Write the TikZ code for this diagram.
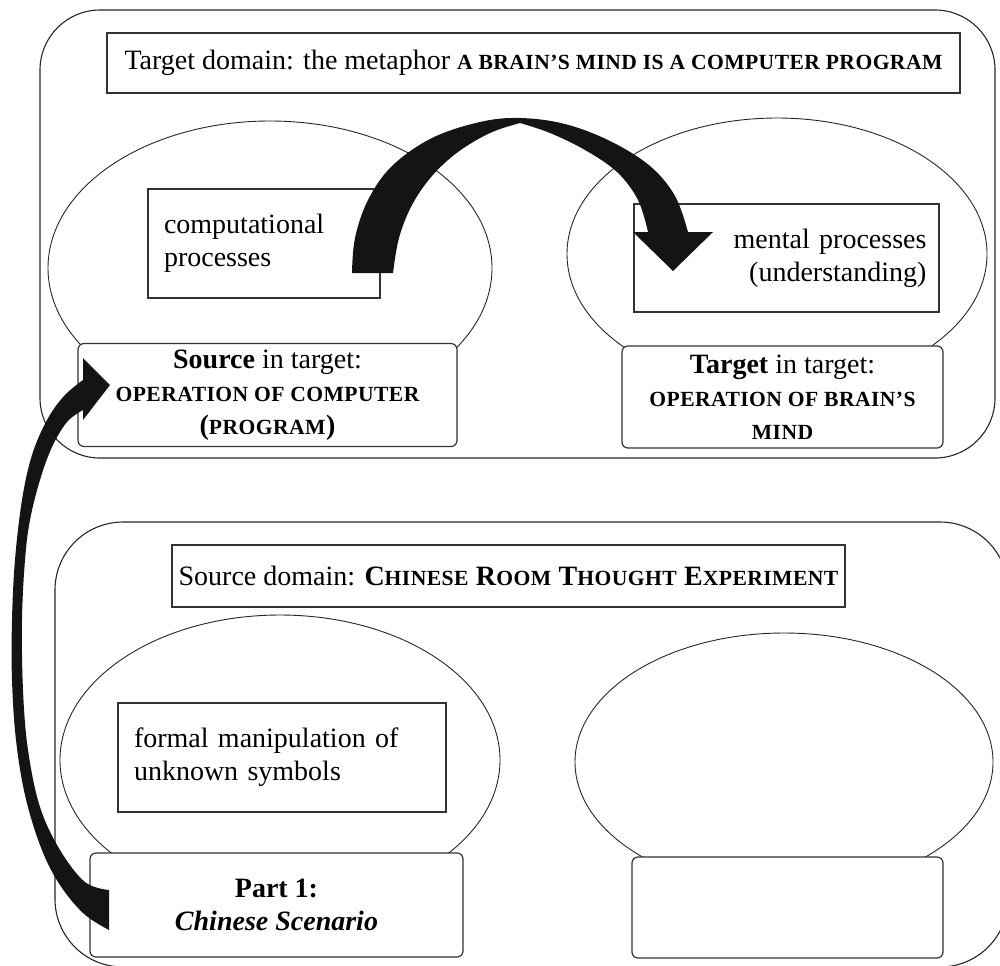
\documentclass[tikz,border=0pt]{standalone}
\usepackage{fontspec}
\setmainfont{Liberation Serif}
\usetikzlibrary{shapes.geometric}
% bold small capitals, set as reduced, slightly tracked bold capitals
\newcommand{\scb}[1]{{\fontsize{10.8}{13}\selectfont\bfseries\addfontfeature{LetterSpace=2}#1}}
\begin{document}
\begin{tikzpicture}[x=0.5pt,y=-0.5pt,
  txt/.style={font=\fontsize{14}{16.5}\selectfont},
  domainbox/.style={draw=black!85, line width=0.55pt, rounded corners=30pt, inner sep=0pt},
  headbox/.style={txt, draw=black!80, line width=0.6pt, inner sep=0pt},
  procbox/.style={txt, draw=black!80, line width=0.6pt, inner ysep=0pt},
  rolebox/.style={txt, draw=black!80, fill=white, line width=0.6pt, rounded corners=3pt, inner sep=0pt, align=center},
  field/.style={ellipse, draw=black!85, line width=0.45pt, inner sep=0pt},
  bigarrow/.style={fill=black!92}
]
\useasboundingbox (0,0) rectangle (1000,965);
\clip (0,0) rectangle (1000,965);

% the two domains
\node[domainbox, minimum width=477.5pt, minimum height=224pt] (targetdomain) at (517.5,234) {};
\node[domainbox, rounded corners=34pt, minimum width=476.5pt, minimum height=222.5pt] (sourcedomain) at (531.5,744.5) {};

% headings
\node[headbox, minimum width=426.5pt, minimum height=30pt] (targethead) at (533.5,63)
  {Target domain: the metaphor \scb{A BRAIN’S MIND IS A COMPUTER PROGRAM}};
\node[headbox, minimum width=336.5pt, minimum height=31pt] (sourcehead) at (508.5,576)
  {Source domain: \textbf{C}\scb{HINESE} \textbf{R}\scb{OOM} \textbf{T}\scb{HOUGHT} \textbf{E}\scb{XPERIMENT}};

% fields
\node[field, minimum width=222pt, minimum height=147pt] (compfield) at (270,268) {};
\node[field, minimum width=210pt, minimum height=136pt] (mindfield) at (777,254) {};
\node[field, minimum width=220pt, minimum height=145pt] (roomfield) at (280,760) {};
\node[field, minimum width=209pt, minimum height=129pt] (emptyfield) at (784,762) {};

% processes
\node[procbox, minimum width=116pt, minimum height=54.5pt, text width=100pt, inner xsep=8pt, align=left] (comp) at (264,243.5)
  {computational\\processes};
\node[procbox, minimum width=152.5pt, minimum height=54pt, text width=140pt, inner xsep=6.25pt, align=right] (mental) at (786.5,258)
  {mental processes\\(understanding)};
\node[procbox, minimum width=164pt, minimum height=54.5pt, text width=148pt, inner xsep=8pt, align=left] (formal) at (282,757.5)
  {formal manipulation of\\unknown symbols};

% roles
\node[rolebox, minimum width=189.5pt, minimum height=51.5pt] (srcrole) at (267.5,395)
  {\textbf{Source} in target:\\\scb{OPERATION OF COMPUTER}\\\textbf{(}\scb{PROGRAM}\textbf{)}};
\node[rolebox, minimum width=160.5pt, minimum height=51pt] (tgtrole) at (782.5,397)
  {\textbf{Target} in target:\\\scb{OPERATION OF BRAIN’S}\\\scb{MIND}};
\node[rolebox, minimum width=186.5pt, minimum height=52pt] (part1) at (276.5,905)
  {\textbf{Part 1:}\\\textbf{\textit{Chinese Scenario}}};
\node[rolebox, minimum width=155.5pt, minimum height=50.5pt] (emptyrole) at (787.5,907.5) {};

% arched arrow: computational -> mental processes
\fill[bigarrow]
  plot[smooth, tension=0.6] coordinates {(352,273) (355,238) (368,200) (392,166) (432,138) (480,122) (520,118) (565,124) (610,141) (650,166) (675,196) (688,232)}
  -- (713,232) -- (673,271) -- (633,232) -- (648,232)
  -- plot[smooth, tension=0.6] coordinates {(648,232) (638,200) (617,172) (585,150) (550,133) (520,123)}
  -- plot[smooth, tension=0.6] coordinates {(520,123) (490,133) (458,152) (432,176) (412,205) (399,238) (393,273)}
  -- cycle;

% long arrow: Part 1 -> source in target
\fill[bigarrow]
  plot[smooth, tension=0.6] coordinates {(109,930) (83,913) (58,882) (40,845) (25,795) (16,740) (12,680) (12,620) (15,560) (22,500) (32,455) (47,420) (64,396) (83,380)}
  -- (83,358) -- (110,385) -- (83,420) -- (83,410)
  -- plot[smooth, tension=0.6] coordinates {(83,410) (67,422) (52,447) (40,480) (30,520) (25,560) (22,620) (23,690) (28,750) (40,807) (60,850) (85,882) (109,890)}
  -- cycle;
\end{tikzpicture}
\end{document}
